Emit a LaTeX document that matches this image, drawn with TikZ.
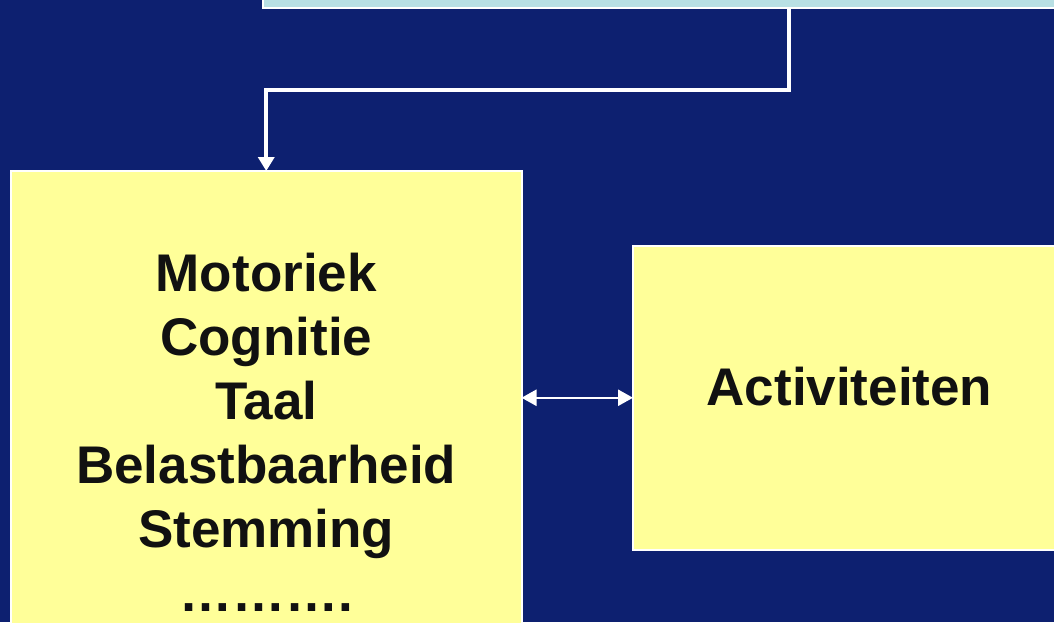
\documentclass[tikz,border=0pt]{standalone}
\usepackage{fontspec}
\setmainfont{Liberation Sans}
\usepackage{tikz}
\usetikzlibrary{arrows.meta,calc,positioning}
\definecolor{navy}{RGB}{13,32,112}
\definecolor{paleyellow}{RGB}{255,255,153}
\definecolor{paleblue}{RGB}{184,224,228}
\definecolor{ink}{RGB}{17,17,17}
\tikzset{
	bb/.style={draw=white,line width=2pt,fill=paleyellow,outer sep=0pt,inner sep=0pt},
	bb top/.style={bb,fill=paleblue},
	lbl/.style={font=\fontsize{53}{64}\selectfont\bfseries,text=ink,inner sep=0pt,align=center},
	wire/.style={draw=white,line width=4pt,-{Triangle[length=14pt,width=16pt]}},
	ar/.style={draw=white,line width=2.5pt,{Triangle[length=15pt,width=16pt]}-{Triangle[length=15pt,width=16pt]}}
}

\begin{document}
\begin{tikzpicture}[x=1pt,y=-1pt]
	\path[use as bounding box] (0,0) rectangle (1054,622);
	\clip (0,0) rectangle (1054,622);
	\fill[navy] (0,0) rectangle (1054,622);
	\node[bb top, anchor=south, minimum width=1052pt, minimum height=70pt] (T) at (789,7.7) {};
	\node[bb, anchor=north, minimum width=510.5pt, minimum height=600pt] (X1) at (266.25,171) {};
	\node[bb, anchor=north west, minimum width=433pt, minimum height=304.5pt] (X2) at (633,245.5) {};
	\node[lbl, anchor=north] (X1txt) at (266.25,253)
		{Motoriek\\Cognitie\\Taal\\Belastbaarheid\\Stemming\\……….};
	\node[lbl, anchor=base] (X2txt) at ([yshift=-7.25pt]X2.center) {Activiteiten};
	\draw[wire] (T.south) -- ++(0,82) -| (X1.north);
	\draw[ar] (X1.east |- X2.west) -- (X2.west);
\end{tikzpicture}
\end{document}
